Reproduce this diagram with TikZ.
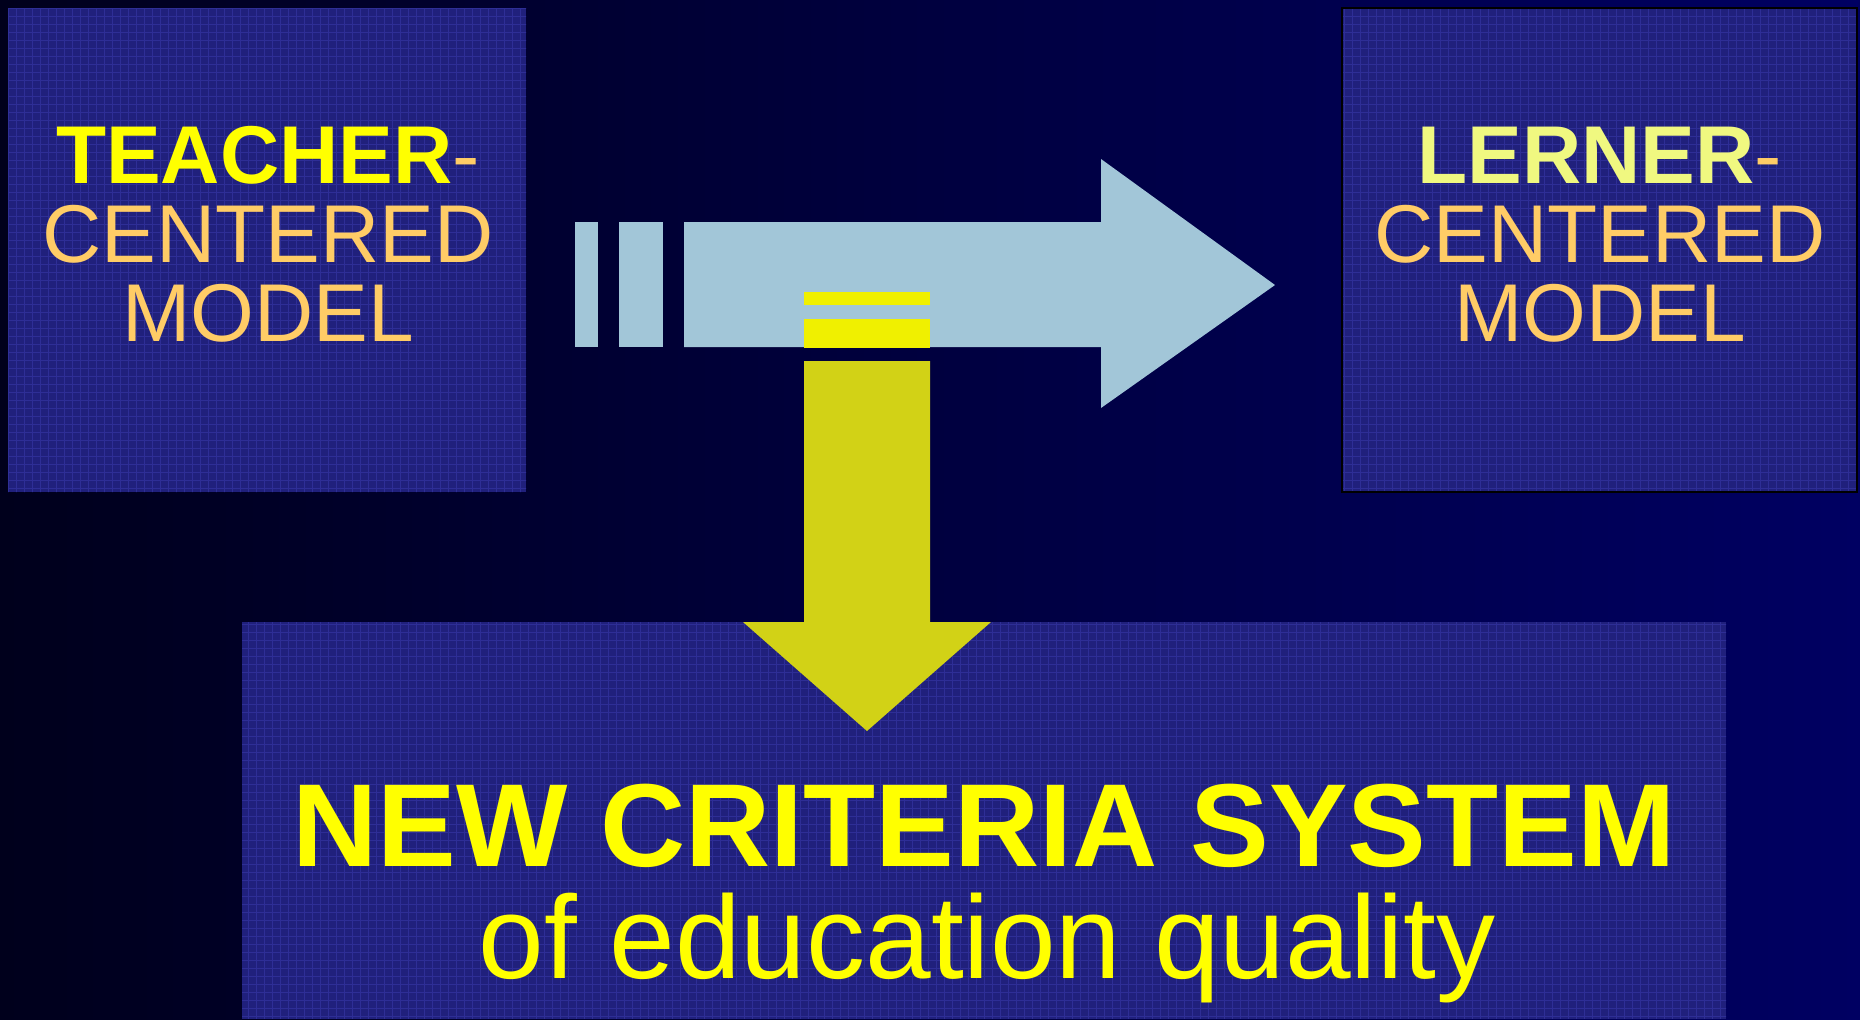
\documentclass[tikz,border=0pt]{standalone}
\usepackage{fontspec}
\setmainfont{Liberation Sans}
\definecolor{nightblue}{RGB}{0,0,28}
\definecolor{deepblue}{RGB}{0,0,98}
\definecolor{panelblue}{RGB}{32,32,124}
\definecolor{panelline}{RGB}{46,46,150}
\definecolor{skyarrow}{RGB}{162,198,216}
\definecolor{goldarrow}{RGB}{210,210,22}
\definecolor{goldbar}{RGB}{240,240,0}
\definecolor{hiyellow}{RGB}{255,255,0}
\definecolor{paleyellow}{RGB}{240,248,128}
\definecolor{apricot}{RGB}{255,204,102}

\tikzstyle{panel}=[fill=panelblue, inner sep=0pt, outer sep=0pt, anchor=north west]
\tikzstyle{word}=[inner sep=0pt, anchor=base, text=apricot, font=\fontsize{41}{41}\selectfont]
\tikzstyle{big}=[inner sep=0pt, anchor=base, text=hiyellow, font=\fontsize{59}{59}\selectfont]

\begin{document}
\begin{tikzpicture}[x=0.5pt, y=-0.5pt]
      \shade[left color=nightblue, right color=deepblue] (0,0) rectangle (1860,1019);
      \node[panel, minimum width=259pt, minimum height=242pt] (teacher) at (8,8) {};
      \node[panel, minimum width=257.5pt, minimum height=242pt] (lerner) at (1342,8) {};
      \node[panel, minimum width=742pt, minimum height=198.5pt] (criteria) at (242,622) {};
      \begin{scope}
        \clip (teacher.north west) rectangle (teacher.south east)
              (lerner.north west) rectangle (lerner.south east)
              (criteria.north west) rectangle (criteria.south east);
        \draw[panelline, line width=0.5pt, step=4pt] (0,0) grid (1860,1019);
      \end{scope}
      \draw[black, line width=1pt] (lerner.north west) rectangle (lerner.south east);

      \fill[skyarrow] (575,222) rectangle (598,347);
      \fill[skyarrow] (619,222) rectangle (663,347);
      \fill[skyarrow] (684,222) -- (1101,222) -- (1101,159) -- (1275,285)
            -- (1101,408) -- (1101,347) -- (684,347) -- cycle;

      \fill[goldbar] (804,292) rectangle (930,305);
      \fill[goldbar] (804,319) rectangle (930,348);
      \fill[goldarrow] (804,361) -- (930,361) -- (930,622) -- (991,622)
            -- (867,731) -- (743,622) -- (804,622) -- cycle;

      \node[word] (t1) at (268,183) {{\bfseries\color{hiyellow}TEACHER}-};
      \node[word] (t2) at (268,262) {CENTERED};
      \node[word] (t3) at (268,341) {MODEL};
      \node[word] (l1) at (1600,183) {{\bfseries\color{paleyellow}LERNER}-};
      \node[word] (l2) at (1600,262) {CENTERED};
      \node[word] (l3) at (1600,341) {MODEL};
      \node[big] (c1) at (984,866) {\bfseries NEW CRITERIA SYSTEM};
      \node[big] (c2) at (987,978) {of education quality};
\end{tikzpicture}
\end{document}
